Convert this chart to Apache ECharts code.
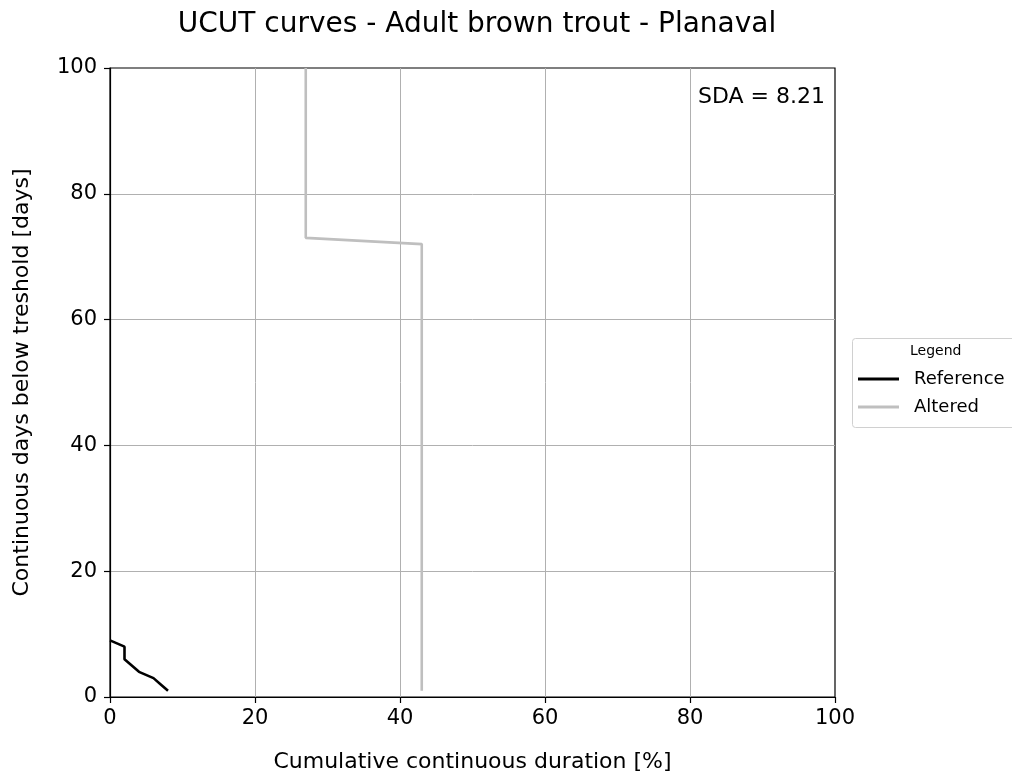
<!DOCTYPE html>
<html>
<head>
<meta charset="utf-8">
<script src="https://cdn.jsdelivr.net/npm/echarts@6/dist/echarts.min.js"></script>
<style>
html,body{margin:0;padding:0;background:#fff;}
#chart{width:1012px;height:775px;}
</style>
</head>
<body>
<div id="chart"></div>
<script>
const titleText = 'UCUT curves - Adult brown trout - Planaval';
const xAxisName = 'Cumulative continuous duration [%]';
const yAxisName = 'Continuous days below treshold [days]';
const seriesNames = ['Reference', 'Altered'];
const referenceX = [0, 2, 2, 2, 3, 4, 6, 7, 8];
const referenceY = [9, 8, 7, 6, 5, 4, 3, 2, 1];
const alteredX = [27, 27, 43, 43];
const alteredY = [100, 73, 72, 1];
const sdaText = 'SDA = 8.21';
const legendTitle = 'Legend';

const FONT = 'DejaVu Sans';
const zip = (xs, ys) => xs.map((x, i) => [x, ys[i]]);

const chart = echarts.init(document.getElementById('chart'), null, {renderer: 'canvas'});
const axisCommon = {
  type: 'value', min: 0, max: 100, interval: 20,
  axisLine: {show: true, onZero: false, lineStyle: {color: '#000', width: 1.2}},
  axisTick: {show: true, length: 6, lineStyle: {color: '#000', width: 1.2}},
  axisLabel: {color: '#000', fontSize: 21, fontFamily: FONT},
  splitLine: {show: true, showMinLine: false, showMaxLine: false, lineStyle: {color: '#b0b0b0', width: 1}},
  nameLocation: 'middle',
  nameTextStyle: {color: '#000', fontSize: 22, fontFamily: FONT}
};
chart.setOption({
  animation: false,
  backgroundColor: '#fff',
  title: {
    text: titleText, left: 472, top: 6, textAlign: 'center',
    textStyle: {color: '#000', fontSize: 28, fontWeight: 'normal', fontFamily: FONT}
  },
  grid: {left: 110, right: 177, top: 68, bottom: 78, show: true, borderColor: '#000', borderWidth: 1.2,
         backgroundColor: 'transparent', containLabel: false, outerBoundsMode: 'none'},
  xAxis: Object.assign({}, axisCommon, {
    name: xAxisName, nameGap: 54,
    axisLabel: Object.assign({}, axisCommon.axisLabel, {margin: 11})
  }),
  yAxis: Object.assign({}, axisCommon, {
    name: yAxisName, nameGap: 77,
    axisLabel: Object.assign({}, axisCommon.axisLabel, {margin: 13})
  }),
  legend: {
    orient: 'vertical', left: 858, top: 369, padding: 0,
    icon: 'rect', itemWidth: 41, itemHeight: 3, itemGap: 8,
    textStyle: {color: '#000', fontSize: 18, fontFamily: FONT, padding: [0, 0, 0, 10], lineHeight: 20},
    data: seriesNames
  },
  graphic: [
    {type: 'rect', left: 852, top: 338, z: -1,
     shape: {width: 170, height: 89, r: 3},
     style: {fill: '#fff', stroke: '#d0d0d0', lineWidth: 1}},
    {type: 'text', left: 910, top: 344,
     style: {text: legendTitle, fill: '#000', font: '14px "DejaVu Sans"'}},
    {type: 'text', right: 187, top: 86,
     style: {text: sdaText, fill: '#000', font: '22px "DejaVu Sans"'}}
  ],
  series: [
    {name: seriesNames[0], type: 'line', data: zip(referenceX, referenceY),
     showSymbol: false, symbol: 'none', lineStyle: {color: '#000', width: 2.6}, itemStyle: {color: '#000'}, z: 3},
    {name: seriesNames[1], type: 'line', data: zip(alteredX, alteredY),
     showSymbol: false, symbol: 'none', lineStyle: {color: '#bfbfbf', width: 2.6}, itemStyle: {color: '#bfbfbf'}, z: 2}
  ]
});
</script>
</body>
</html>
